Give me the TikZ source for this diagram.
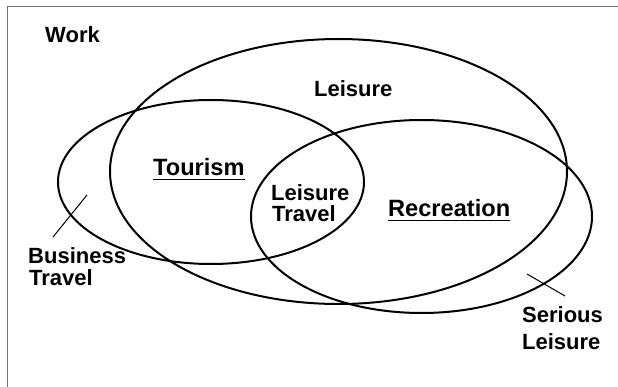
\documentclass[tikz,border=0pt]{standalone}
\usepackage{fontspec}
\setmainfont{Liberation Sans}
\begin{document}
\begin{tikzpicture}[x=1pt,y=-1pt,
  lbl/.style={font=\fontsize{22}{22}\selectfont\bfseries, inner sep=0pt, anchor=base west},
  biglbl/.style={lbl, font=\fontsize{23.6}{24}\selectfont\bfseries},
  ell/.style={draw, line width=2pt},
  ptr/.style={draw, line width=1pt},
  uline/.style={draw, line width=1.8pt},
  frame/.style={draw, line width=1pt, black!55}]
\useasboundingbox (0,0) rectangle (618,387);
% frame
\coordinate (fbl) at (7.5,387);
\coordinate (ftl) at (7.5,7);
\coordinate (ftr) at (618,7);
\draw[frame] (fbl) -- (ftl) -- (ftr);
% ellipses
\draw[ell] (338.5,171.5) ellipse [x radius=228.5, y radius=132.5];
\draw[ell] (211,182) ellipse [x radius=153, y radius=82];
\draw[ell] (421.5,216.5) ellipse [x radius=170.5, y radius=96.5];
% labels
\node[lbl] (work) at (45,43) {Work};
\node[lbl] (leis) at (314,97) {Leisure};
\node[biglbl] (tour) at (153,176) {Tourism};
\node[lbl] (lt1) at (271,201) {Leisure};
\node[lbl] (lt2) at (272,222) {Travel};
\node[biglbl] (recr) at (388,217) {Recreation};
\node[lbl] (bt1) at (28,263) {Business};
\node[lbl] (bt2) at (29,285) {Travel};
\node[lbl] (sl1) at (522,322) {Serious};
\node[lbl] (sl2) at (522,349) {Leisure};
% underlines
\draw[uline] ([yshift=-3.5pt]tour.base west) -- ([yshift=-3.5pt]tour.base east);
\draw[uline] ([yshift=-3.5pt]recr.base west) -- ([yshift=-3.5pt]recr.base east);
% pointers
\coordinate (bpa) at (53,237);
\coordinate (bpb) at (87,195);
\draw[ptr] (bpa) -- (bpb);
\coordinate (spa) at (527,274);
\coordinate (spb) at (565,296);
\draw[ptr] (spa) -- (spb);
\end{tikzpicture}
\end{document}
